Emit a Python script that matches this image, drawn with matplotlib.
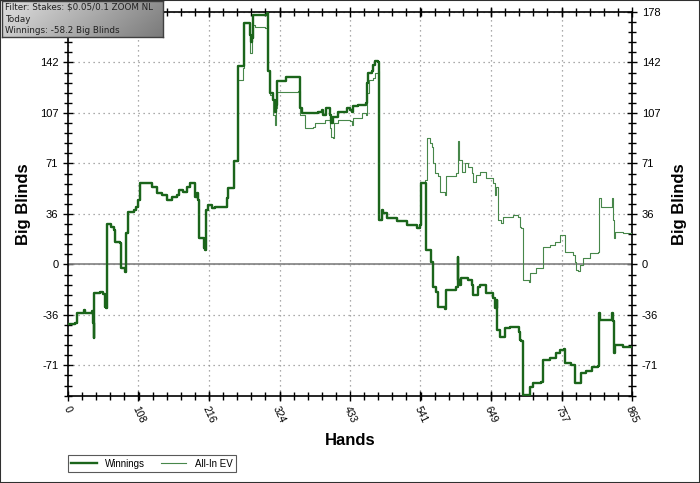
import numpy as np
import matplotlib
matplotlib.use('Agg')
import matplotlib.pyplot as plt
from matplotlib.ticker import FixedLocator, MultipleLocator
from matplotlib.patches import Rectangle

plt.rcParams['font.family'] = ['Liberation Sans', 'DejaVu Sans']

# ── data (hand number, big blinds) ──
win_hands = [0, 11.2, 13.8, 21.5, 24, 26.6, 36.8, 37.8, 40.4, 40.6,
             49.6, 53.1, 56.2, 58.8, 59.8, 66.4, 70, 71.5, 80.2, 81.2,
             86.9, 88.9, 91.5, 100.7, 104.2, 107.3, 109.9, 116, 128.8, 136.4,
             144.1, 151.8, 159.4, 167.1, 169.7, 175.8, 182.4, 187.5, 194.2, 195.2,
             197.8, 199.3, 200.8, 208, 210, 211, 214.6, 220.8, 225, 242,
             243.3, 245.8, 253.4, 254.5, 258.6, 261.1, 268.7, 270.3, 277.5, 278.5,
             280, 281.6, 283.1, 304.6, 306.1, 307.1, 309.7, 314.8, 317.3, 318.9,
             319.9, 334.2, 354.1, 355.7, 358.2, 371, 383.7, 388.9, 391.4, 395.5,
             401.6, 403.2, 405.8, 406.7, 414.4, 427.2, 432.3, 434.9, 437.4, 445,
             456.4, 458.8, 460.4, 465.5, 467.1, 470.6, 475.7, 477.3, 480.9, 483.4,
             488.5, 503.9, 519.2, 535.5, 539.6, 541.1, 547.3, 548.8, 556.5, 560,
             564.1, 567.7, 577.9, 579.5, 595.8, 597.4, 598.4, 601, 603.5, 613.7,
             618.9, 621.4, 626.5, 629, 631.6, 641.8, 652, 654.6, 657.2, 658.1,
             662.3, 669.9, 677.6, 691.9, 693, 695.5, 697.1, 707.2, 709.3, 713.3,
             726.2, 728.6, 738.9, 749.2, 754.2, 760.4, 761.9, 772.2, 777.2, 782.3,
             787.5, 795.2, 804.4, 813, 814.5, 816.6, 833.5, 835, 836.5, 837,
             838.6, 851.3, 865]
win_bb = [-42.0, -41.5, -34.4, -34.0, -32.1, -34.0, -32.8, -41.5, -52.1, -20.3,
          -19.2, -20.8, -29.8, -30.9, 28.6, 26.2, 24.3, 16.1, 15.0, -2.7,
          -5.1, 22.0, 37.3, 38.5, 40.8, 45.5, 57.3, 57.7, 54.9, 50.2,
          49.0, 45.5, 47.8, 49.0, 52.6, 51.4, 54.9, 57.3, 56.1, 47.8,
          50.7, 45.5, 18.5, 11.4, 10.2, 38.5, 42.0, 39.7, 40.8, 40.8,
          46.7, 53.8, 53.8, 73.0, 73.0, 139.6, 139.6, 170.2, 170.2, 162.0,
          156.8, 159.6, 176.1, 177.3, 176.1, 136.1, 120.8, 116.1, 107.8, 112.6,
          129.0, 132.5, 132.5, 110.2, 106.7, 106.7, 107.8, 109.0, 105.5, 110.2,
          105.5, 99.6, 99.6, 104.3, 107.8, 110.2, 109.0, 107.8, 111.4, 112.6,
          113.8, 127.9, 134.9, 136.1, 140.8, 143.1, 142.4, 31.4, 38.5, 36.1,
          32.6, 30.9, 27.9, 25.5, 27.9, 57.3, 57.3, 10.2, 2.0, -15.7,
          -19.2, -29.8, -31.6, -18.0, -15.7, 5.5, -10.9, -14.5, -9.7, -10.9,
          -14.5, -21.5, -21.5, -15.7, -14.5, -20.3, -23.9, -30.9, -25.1, -46.2,
          -50.9, -45.0, -44.3, -47.4, -53.3, -53.8, -92.1, -92.1, -86.2, -83.8,
          -82.7, -67.4, -66.2, -62.7, -60.3, -59.8, -69.7, -70.9, -83.8, -83.8,
          -76.8, -74.9, -72.1, -71.6, -34.4, -39.2, -39.0, -34.4, -39.6, -62.2,
          -56.8, -58.0, -58.2]

# all-in EV follows winnings except where the two lines split
ev_top_hands = [261.1, 267.8, 268.7, 270.3, 277.5, 279, 281.6, 284.1, 286.7, 302,
                304.6, 307.1, 309.7, 314.8, 317.3, 318.9, 320.9, 353.1, 355.7, 363.3,
                376.1, 378.7, 391.4, 393.9, 401.6, 403.2, 406.7, 407.8, 414.4, 432.3,
                434.9, 437.4, 450.2, 456.8, 458.8, 461.9, 467.1, 470.6, 475.7, 477.3]
ev_top_bb = [130.2, 130.2, 138.4, 170.2, 170.2, 149.0, 159.6, 169.0, 167.1, 166.7,
             169.0, 136.1, 119.6, 105.5, 98.4, 110.2, 121.9, 122.4, 105.5, 96.1,
             97.2, 99.6, 99.6, 101.9, 96.1, 89.5, 89.0, 99.6, 102.0, 100.8,
             98.4, 103.2, 106.7, 105.5, 120.8, 130.2, 131.4, 134.9, 136.1, 31.4]
ev_tail_hands = [547.3, 549.9, 554.9, 557.5, 560, 562.6, 567.7, 570.3, 577.9, 579.5,
                 595.8, 598.4, 599.9, 605, 608.6, 613.7, 618.9, 621.4, 626.5, 631.6,
                 641.8, 652, 654.6, 656.1, 658.7, 659.7, 664.7, 667.3, 682.6, 690.3,
                 693, 695.5, 697.1, 707.2, 708.2, 718.5, 726.2, 728.6, 738.9, 746.6,
                 754.2, 760.4, 761.9, 774.6, 777.2, 778.8, 782.3, 784.9, 790, 800.3,
                 813, 814.5, 818.1, 833.5, 835, 836, 837, 838.6, 851.3, 865]
ev_tail_bb = [59.6, 89.1, 85.5, 83.1, 71.4, 64.4, 62.0, 51.4, 49.0, 62.0,
              64.4, 86.7, 73.7, 65.5, 71.4, 69.0, 64.4, 58.4, 63.2, 65.5,
              60.8, 57.3, 49.0, 54.9, 54.9, 31.4, 29.1, 33.7, 34.9, 33.7,
              26.7, 25.5, -10.9, -12.1, -6.2, -2.7, -2.7, 12.6, 13.8, 16.1,
              20.8, 20.8, 9.0, 6.7, 2.0, -3.9, -4.4, -0.4, 4.4, 7.9,
              9.0, 46.7, 40.4, 40.4, 46.7, 31.4, 18.5, 23.1, 22.0, 22.0]

ev_hands = win_hands[:55] + ev_top_hands + win_hands[98:106] + ev_tail_hands
ev_bb = win_bb[:55] + ev_top_bb + win_bb[98:106] + ev_tail_bb

x_ticks = [0, 108.1, 216.3, 324.4, 432.5, 540.6, 648.8, 756.9, 865]
x_labels = ['0', '108', '216', '324', '433', '541', '649', '757', '865']
y_ticks = [-71.2, -35.6, 0, 35.6, 71.2, 106.8, 142.4, 178]
y_labels = ['-71', '-36', '0', '36', '71', '107', '142', '178']

info_lines = ['Filter: Stakes: $0.05/0.1 ZOOM NL', 'Today', 'Winnings: -58.2 Big Blinds']

# ── figure ──
fig = plt.figure(figsize=(7, 4.83), dpi=100)
fig.patch.set_facecolor('white')
ax = fig.add_axes([68 / 700, 1 - 396 / 483, (632 - 68) / 700, (396 - 12) / 483])

ax.plot(ev_hands, ev_bb, color='#47874a', lw=0.8, label='All-In EV',
        drawstyle='steps-post', zorder=3)
ax.plot(win_hands, win_bb, color='#1b651b', lw=1.7, label='Winnings',
        drawstyle='steps-post', zorder=4)
ax.axhline(0, color='#808080', lw=1.2, zorder=2)

ax.set_xlim(0, 865)
ax.set_ylim(-92.8, 178)

ax.xaxis.set_major_locator(FixedLocator(x_ticks))
ax.set_xticklabels(x_labels, rotation=-65, ha='center', va='top', fontsize=7.5)
ax.xaxis.set_minor_locator(MultipleLocator(865 / 40))
ax.yaxis.set_major_locator(FixedLocator(y_ticks))
ax.set_yticklabels(y_labels, fontsize=8)
ax.yaxis.set_minor_locator(MultipleLocator(35.6 / 5))

ax.tick_params(which='both', direction='inout', top=True, right=True,
               labelright=True, color='black', width=1)
ax.tick_params(which='major', length=7)
ax.tick_params(which='minor', length=6)
ax.tick_params(axis='x', pad=3)

# the left "178" sits under the info box in the original
ax.yaxis.get_major_ticks()[-1].label1.set_visible(False)

ax.grid(True, which='major', color='#909090', ls=(0, (1, 3)), lw=0.9)
for s in ax.spines.values():
    s.set_linewidth(1.2)

ax.set_xlabel('Hands', fontsize=12, fontweight='bold', labelpad=6)
ax.set_ylabel('Big Blinds', fontsize=12, fontweight='bold', labelpad=6)
ax2 = ax.secondary_yaxis('right')
ax2.set_yticks([])
ax2.spines['right'].set_visible(False)
ax2.set_ylabel('Big Blinds', fontsize=12, fontweight='bold', labelpad=29)

# legend below plot
handles, labels = ax.get_legend_handles_labels()
leg = fig.legend(handles[::-1], labels[::-1], loc='lower left',
                 bbox_to_anchor=(68 / 700, 11 / 483), ncol=2, fontsize=7,
                 frameon=True, fancybox=False, handlelength=2.6,
                 columnspacing=1.6, borderpad=0.35, handletextpad=0.9,
                 borderaxespad=0)
leg.get_frame().set_edgecolor('#303030')
leg.get_frame().set_linewidth(0.8)

# info box top-left, grey gradient
iax = fig.add_axes([2 / 700, 1 - 37 / 483, 161 / 700, 36 / 483])
gx = np.linspace(0, 1, 200)[None, :]
gy = np.linspace(0, 1, 40)[:, None]
shade = 0.88 - 0.32 * gx - 0.08 * gy
iax.imshow(np.dstack([shade, shade, shade]), aspect='auto', extent=(0, 1, 0, 1))
iax.set_xticks([])
iax.set_yticks([])
for s in iax.spines.values():
    s.set_color('#404040')
    s.set_linewidth(1)
for i, t in enumerate(info_lines):
    iax.text(0.02, 0.82 - i * 0.32, t, transform=iax.transAxes, fontsize=6.3,
             family='DejaVu Sans', color='#202020', va='center', ha='left')

fig.patches.append(Rectangle((0, 0), 1, 1, transform=fig.transFigure, fill=False,
                             edgecolor='#303030', lw=1.5))

fig.savefig('out.png', dpi=100)
